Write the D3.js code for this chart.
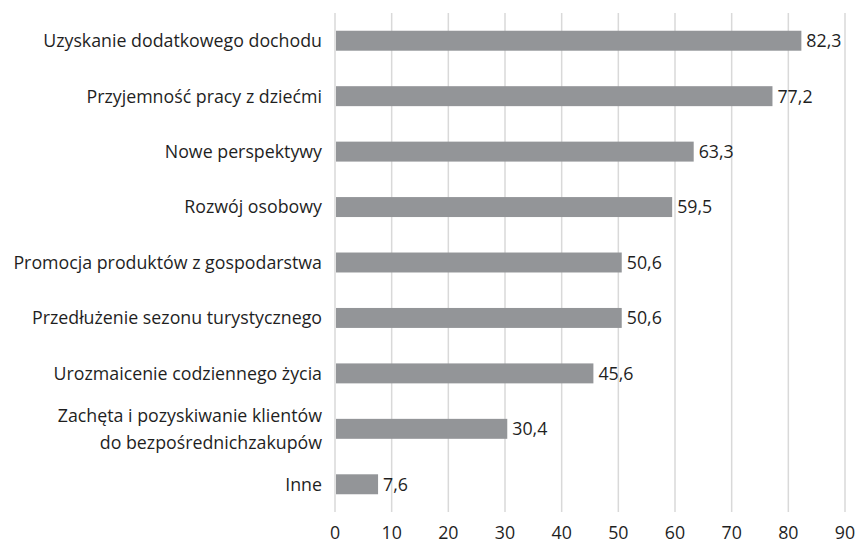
<!DOCTYPE html>
<html>
<head>
<meta charset="utf-8">
<script src="https://cdn.jsdelivr.net/npm/d3@7"></script>
<style>
  body { margin: 0; background: #fff; }
  text { font-family: "Open Sans", sans-serif; fill: #1f1f1f; }
</style>
</head>
<body>
<svg id="chart" width="857" height="547"></svg>
<script>
// categories, top to bottom (second line of a label after "|")
const categories = [
  'Uzyskanie dodatkowego dochodu',
  'Przyjemność pracy z dziećmi',
  'Nowe perspektywy',
  'Rozwój osobowy',
  'Promocja produktów z gospodarstwa',
  'Przedłużenie sezonu turystycznego',
  'Urozmaicenie codziennego życia',
  'Zachęta i pozyskiwanie klientów|do bezpośrednichzakupów',
  'Inne'
]
const values = [82.3, 77.2, 63.3, 59.5, 50.6, 50.6, 45.6, 30.4, 7.6]
const ticks = [0, 10, 20, 30, 40, 50, 60, 70, 80, 90]

const svg = d3.select('#chart')
const plotL = 335, plotR = 845, plotT = 13, plotB = 512
const fs = 17.8

const x = d3.scaleLinear().domain([0, 90]).range([plotL, plotR])
const y = d3.scaleBand().domain(categories).range([plotT, plotB]).paddingInner(0.64).paddingOuter(0.32)

const fmt = v => d3.format('.1f')(v).replace('.', ',')

// vertical gridlines
svg.append('g')
  .selectAll('line')
  .data(ticks)
  .join('line')
  .attr('x1', d => x(d)).attr('x2', d => x(d))
  .attr('y1', plotT).attr('y2', plotB)
  .attr('stroke', '#d9d9d9')
  .attr('stroke-width', 1.5)

// x tick labels
svg.append('g')
  .selectAll('text')
  .data(ticks)
  .join('text')
  .attr('x', d => x(d))
  .attr('y', 539)
  .attr('text-anchor', 'middle')
  .attr('font-size', fs)
  .text(d => d)

// bars
svg.append('g')
  .selectAll('rect')
  .data(values)
  .join('rect')
  .attr('x', x(0) + 1)
  .attr('y', (d, i) => y(categories[i]))
  .attr('width', d => x(d) - x(0) - 1)
  .attr('height', y.bandwidth())
  .attr('fill', '#939598')

// value labels
svg.append('g')
  .selectAll('text')
  .data(values)
  .join('text')
  .attr('x', d => x(d) + 5)
  .attr('y', (d, i) => y(categories[i]) + y.bandwidth() / 2)
  .attr('dy', '0.36em')
  .attr('font-size', fs)
  .text(fmt)

// category labels
const lab = svg.append('g')
  .selectAll('text')
  .data(categories)
  .join('text')
  .attr('x', 322)
  .attr('y', d => y(d) + y.bandwidth() / 2)
  .attr('text-anchor', 'end')
  .attr('font-size', fs)

lab.each(function (d) {
  const lines = d.split('|')
  const t = d3.select(this)
  lines.forEach((s, i) => {
    t.append('tspan')
      .attr('x', 322)
      .attr('dy', i === 0 ? (0.36 - (lines.length - 1) * 0.75) + 'em' : '1.5em')
      .text(s)
  })
})
</script>
</body>
</html>
